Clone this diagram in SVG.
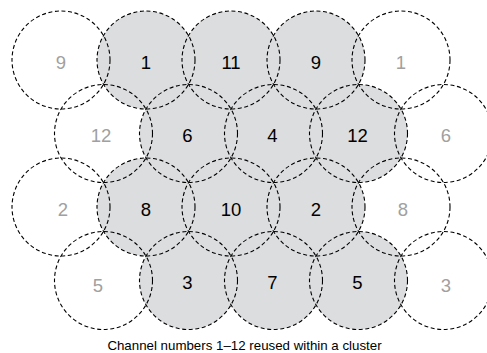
<svg xmlns="http://www.w3.org/2000/svg" width="487" height="353" viewBox="0 0 487 353">
<style>
.fill{fill:#dcdddf;stroke:none}
.cell{fill:none;stroke:#000;stroke-width:1.1;stroke-dasharray:4 2.6}
.lab{font-family:"Liberation Sans",Arial,sans-serif;font-size:18.5px;text-anchor:middle;fill:#000}
.lab.co{fill:#a0a0a0}
.cap{font-family:"Liberation Sans",Arial,sans-serif;font-size:13.3px;text-anchor:middle;fill:#000}
</style>
<rect width="487" height="353" fill="#fff"/>
<g id="cluster-fill">
<circle class="fill" cx="146" cy="60" r="49"/>
<circle class="fill" cx="231" cy="60" r="49"/>
<circle class="fill" cx="316" cy="60" r="49"/>
<circle class="fill" cx="188.5" cy="133.5" r="49"/>
<circle class="fill" cx="273.5" cy="133.5" r="49"/>
<circle class="fill" cx="358.5" cy="133.5" r="49"/>
<circle class="fill" cx="146" cy="207" r="49"/>
<circle class="fill" cx="231" cy="207" r="49"/>
<circle class="fill" cx="316" cy="207" r="49"/>
<circle class="fill" cx="188.5" cy="280.5" r="49"/>
<circle class="fill" cx="273.5" cy="280.5" r="49"/>
<circle class="fill" cx="358.5" cy="280.5" r="49"/>
</g>
<g id="r1c1"><circle class="cell" cx="61" cy="60" r="49"/><text class="lab co" x="61" y="68.5">9</text></g>
<g id="r1c2"><circle class="cell" cx="146" cy="60" r="49"/><text class="lab" x="146" y="68.5">1</text></g>
<g id="r1c3"><circle class="cell" cx="231" cy="60" r="49"/><text class="lab" x="231" y="68.5">11</text></g>
<g id="r1c4"><circle class="cell" cx="316" cy="60" r="49"/><text class="lab" x="316" y="68.5">9</text></g>
<g id="r1c5"><circle class="cell" cx="401" cy="60" r="49"/><text class="lab co" x="401" y="68.5">1</text></g>
<g id="r2c1"><circle class="cell" cx="103.5" cy="133.5" r="49"/><text class="lab co" x="101" y="142">12</text></g>
<g id="r2c2"><circle class="cell" cx="188.5" cy="133.5" r="49"/><text class="lab" x="187.5" y="142">6</text></g>
<g id="r2c3"><circle class="cell" cx="273.5" cy="133.5" r="49"/><text class="lab" x="272.5" y="142">4</text></g>
<g id="r2c4"><circle class="cell" cx="358.5" cy="133.5" r="49"/><text class="lab" x="357.5" y="142">12</text></g>
<g id="r2c5"><circle class="cell" cx="443.5" cy="133.5" r="49"/><text class="lab co" x="446" y="142">6</text></g>
<g id="r3c1"><circle class="cell" cx="61" cy="207" r="49"/><text class="lab co" x="63" y="215.5">2</text></g>
<g id="r3c2"><circle class="cell" cx="146" cy="207" r="49"/><text class="lab" x="146" y="215.5">8</text></g>
<g id="r3c3"><circle class="cell" cx="231" cy="207" r="49"/><text class="lab" x="231" y="215.5">10</text></g>
<g id="r3c4"><circle class="cell" cx="316" cy="207" r="49"/><text class="lab" x="316" y="215.5">2</text></g>
<g id="r3c5"><circle class="cell" cx="401" cy="207" r="49"/><text class="lab co" x="403" y="215.5">8</text></g>
<g id="r4c1"><circle class="cell" cx="103.5" cy="280.5" r="49"/><text class="lab co" x="98" y="292">5</text></g>
<g id="r4c2"><circle class="cell" cx="188.5" cy="280.5" r="49"/><text class="lab" x="187.5" y="289">3</text></g>
<g id="r4c3"><circle class="cell" cx="273.5" cy="280.5" r="49"/><text class="lab" x="272.5" y="289">7</text></g>
<g id="r4c4"><circle class="cell" cx="358.5" cy="280.5" r="49"/><text class="lab" x="357.5" y="289">5</text></g>
<g id="r4c5"><circle class="cell" cx="443.5" cy="280.5" r="49"/><text class="lab co" x="446" y="292">3</text></g>
<g id="connectors"></g>
<text class="cap" x="244.5" y="350">Channel numbers 1–12 reused within a cluster</text>
</svg>
